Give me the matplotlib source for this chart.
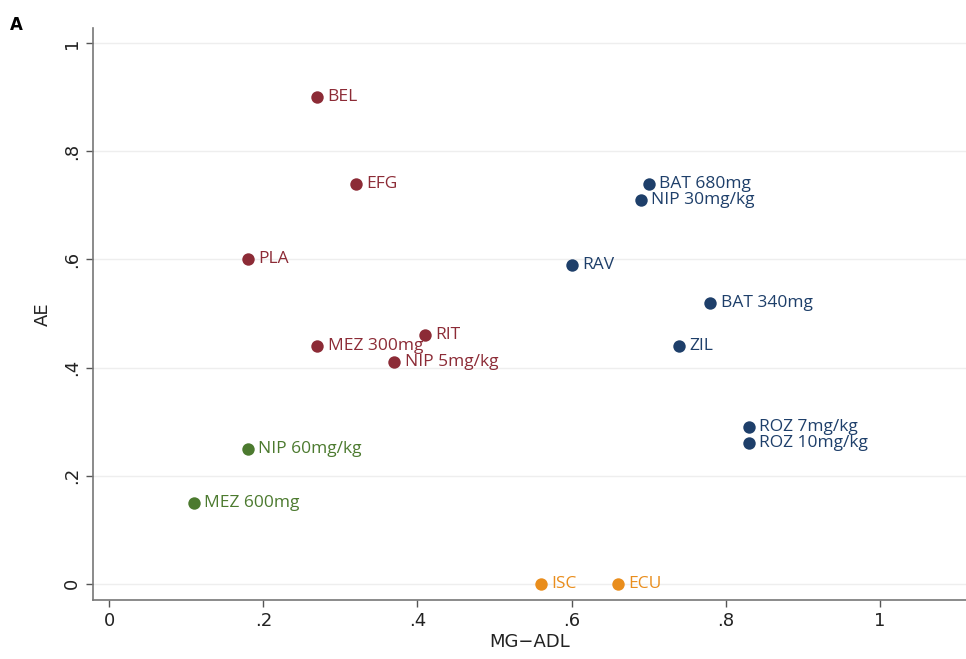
import matplotlib
matplotlib.use("Agg")
import matplotlib.pyplot as plt

# data
red_names = ["BEL", "EFG", "PLA", "RIT", "MEZ 300mg", "NIP 5mg/kg"]
red_x = [0.27, 0.32, 0.18, 0.41, 0.27, 0.37]
red_y = [0.90, 0.74, 0.60, 0.46, 0.44, 0.41]

blue_names = ["BAT 680mg", "NIP 30mg/kg", "RAV", "BAT 340mg", "ZIL", "ROZ 7mg/kg", "ROZ 10mg/kg"]
blue_x = [0.70, 0.69, 0.60, 0.78, 0.74, 0.83, 0.83]
blue_y = [0.74, 0.71, 0.59, 0.52, 0.44, 0.29, 0.26]

green_names = ["NIP 60mg/kg", "MEZ 600mg"]
green_x = [0.18, 0.11]
green_y = [0.25, 0.15]

orange_names = ["ISC", "ECU"]
orange_x = [0.56, 0.66]
orange_y = [0.0, 0.0]

ticks = [0, 0.2, 0.4, 0.6, 0.8, 1]
tick_labels = ["0", ".2", ".4", ".6", ".8", "1"]

groups = [
    (red_names, red_x, red_y, "#8c2b36"),
    (blue_names, blue_x, blue_y, "#1e3f6a"),
    (green_names, green_x, green_y, "#4c7a2f"),
    (orange_names, orange_x, orange_y, "#e98d1c"),
]

fig = plt.figure(figsize=(9.66, 6.59), dpi=100)
ax = fig.add_axes([0.0963, 0.0895, 0.9037, 0.868])

for names, xs, ys, col in groups:
    ax.scatter(xs, ys, s=80, color=col, zorder=3, linewidths=0)
    for n, x, y in zip(names, xs, ys):
        ax.annotate(n, (x, y), xytext=(7.5, 0), textcoords="offset points",
                    va="center", ha="left", color=col, fontsize=12.5,
                    family="Open Sans", zorder=4)

ax.set_xlim(-0.021, 1.112)
ax.set_ylim(-0.03, 1.028)
ax.set_xticks(ticks)
ax.set_xticklabels(tick_labels)
ax.set_yticks(ticks)
ax.set_yticklabels(tick_labels, rotation=90, va="center")
ax.grid(axis="y", color="#eeeeee", linewidth=1)
ax.set_axisbelow(True)

for s in ["top", "right"]:
    ax.spines[s].set_visible(False)
for s in ["left", "bottom"]:
    ax.spines[s].set_color("#777777")
    ax.spines[s].set_linewidth(1.2)
ax.tick_params(colors="#555555", labelcolor="#222222", labelsize=13, length=5, width=1)

ax.set_xlabel("MG\u2212ADL", fontsize=13, color="#222222", labelpad=2)
ax.set_ylabel("AE", fontsize=13, color="#222222", labelpad=8)
fig.text(0.01, 0.975, "A", fontsize=12, fontweight="bold", va="top")

fig.savefig("out.png", dpi=100)
